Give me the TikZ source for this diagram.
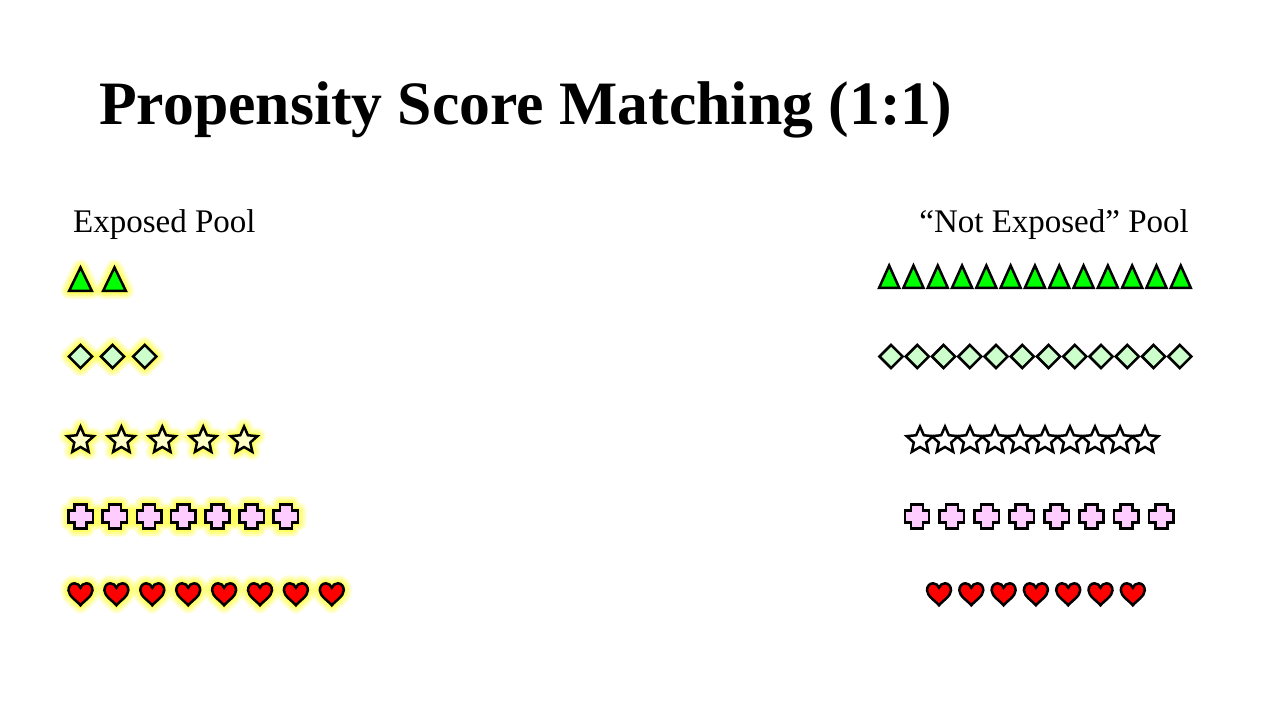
\documentclass[tikz,border=0pt]{standalone}
\usepackage{fontspec}
\setmainfont{Liberation Serif}
\definecolor{glowy}{RGB}{255,255,0}
\definecolor{trigreen}{RGB}{0,255,0}
\definecolor{diagreen}{RGB}{204,255,204}
\definecolor{crosspink}{RGB}{255,204,255}
\definecolor{heartred}{RGB}{255,0,0}
\definecolor{starfillL}{RGB}{255,255,200}
\newcommand{\TriL}{(-11.3,0) -- (11.3,0) -- (0,-23.25) -- cycle}
\newcommand{\TriR}{(-10,0) -- (10,0) -- (0,-22.25) -- cycle}
\newcommand{\DiaP}{(-11.6,0) -- (0,-11.6) -- (11.6,0) -- (0,11.6) -- cycle}
\newcommand{\StarP}{(270:14) -- (306:6.5) -- (342:14) -- (18:6.5) -- (54:14) -- (90:6.5) -- (126:14) -- (162:6.5) -- (198:14) -- (234:6.5) -- cycle}
\newcommand{\CrossP}{(-6,-12.2) -- (6,-12.2) -- (6,-6) -- (12.2,-6) -- (12.2,6) -- (6,6) -- (6,12.2) -- (-6,12.2) -- (-6,6) -- (-12.2,6) -- (-12.2,-6) -- (-6,-6) -- cycle}
\newcommand{\HeartP}{(0,10) .. controls (-3,6) and (-12,1) .. (-12,-5) .. controls (-12,-9) and (-9.5,-12) .. (-6,-12) .. controls (-3,-12) and (-0.8,-10) .. (0,-7.5) .. controls (0.8,-10) and (3,-12) .. (6,-12) .. controls (9.5,-12) and (12,-9) .. (12,-5) .. controls (12,1) and (3,6) .. (0,10) -- cycle}
\newcommand{\glowat}[3]{\begin{scope}[shift={(#2,#3)}]\draw[glowA]#1;\draw[glowB]#1;\draw[glowC]#1;\draw[glowD]#1;\end{scope}}
\newcommand{\shapeat}[4]{\begin{scope}[shift={(#3,#4)}]\draw[shp,#2]#1;\end{scope}}
\begin{document}
\begin{tikzpicture}[x=1pt,y=-1pt,
  glowA/.style={draw=glowy,line width=17pt,line join=round,draw opacity=0.12},
  glowB/.style={draw=glowy,line width=14pt,line join=round,draw opacity=0.16},
  glowC/.style={draw=glowy,line width=10pt,line join=round,draw opacity=0.22},
  glowD/.style={draw=glowy,line width=6pt,line join=round,draw opacity=0.3},
  shp/.style={draw=black,line width=2.5pt,line join=miter},
  titletext/.style={anchor=base west,inner sep=0pt,font=\fontsize{61.7}{70}\bfseries\selectfont},
  pooltext/.style={inner sep=0pt,font=\fontsize{33}{40}\selectfont}]
\useasboundingbox[fill=white] (0,0) rectangle (1280,720);
\node[titletext] (title) at (99,124) {Propensity Score Matching (1:1)};
\node[pooltext,anchor=base west] (exposed) at (73,232) {Exposed Pool};
\node[pooltext,anchor=base east] (notexposed) at (1189,232) {“Not Exposed” Pool};
% glows (left pool)
\foreach \cx in {80.5,114.5} {\glowat{\TriL}{\cx}{290.75}}
\foreach \cx in {80.5,112.6,144.7} {\glowat{\DiaP}{\cx}{356.5}}
\foreach \i in {0,...,4} {\glowat{\StarP}{80.5+40.9*\i}{440.5}}
\foreach \i in {0,...,6} {\glowat{\CrossP}{80.7+34.2*\i}{516.5}}
\foreach \i in {0,...,7} {\glowat{\HeartP}{80.5+35.9*\i}{595.3}}
% left pool shapes
\foreach \cx in {80.5,114.5} {\shapeat{\TriL}{fill=trigreen}{\cx}{290.75}}
\foreach \cx in {80.5,112.6,144.7} {\shapeat{\DiaP}{fill=diagreen}{\cx}{356.5}}
\foreach \i in {0,...,4} {\shapeat{\StarP}{fill=starfillL}{80.5+40.9*\i}{440.5}}
\foreach \i in {0,...,6} {\shapeat{\CrossP}{fill=crosspink}{80.7+34.2*\i}{516.5}}
\foreach \i in {0,...,7} {\shapeat{\HeartP}{fill=heartred}{80.5+35.9*\i}{595.3}}
% right pool shapes
\foreach \i in {0,...,12} {\shapeat{\TriR}{fill=trigreen}{889.15+24.3*\i}{287.75}}
\foreach \i in {0,...,11} {\shapeat{\DiaP}{fill=diagreen}{891.1+26.25*\i}{356.5}}
\foreach \i in {0,...,9} {\shapeat{\StarP}{fill=white}{920+25*\i}{440.5}}
\foreach \i in {0,...,7} {\shapeat{\CrossP}{fill=crosspink}{917+34.9*\i}{516.5}}
\foreach \i in {0,...,6} {\shapeat{\HeartP}{fill=heartred}{939+32.3*\i}{595.3}}
\end{tikzpicture}
\end{document}
